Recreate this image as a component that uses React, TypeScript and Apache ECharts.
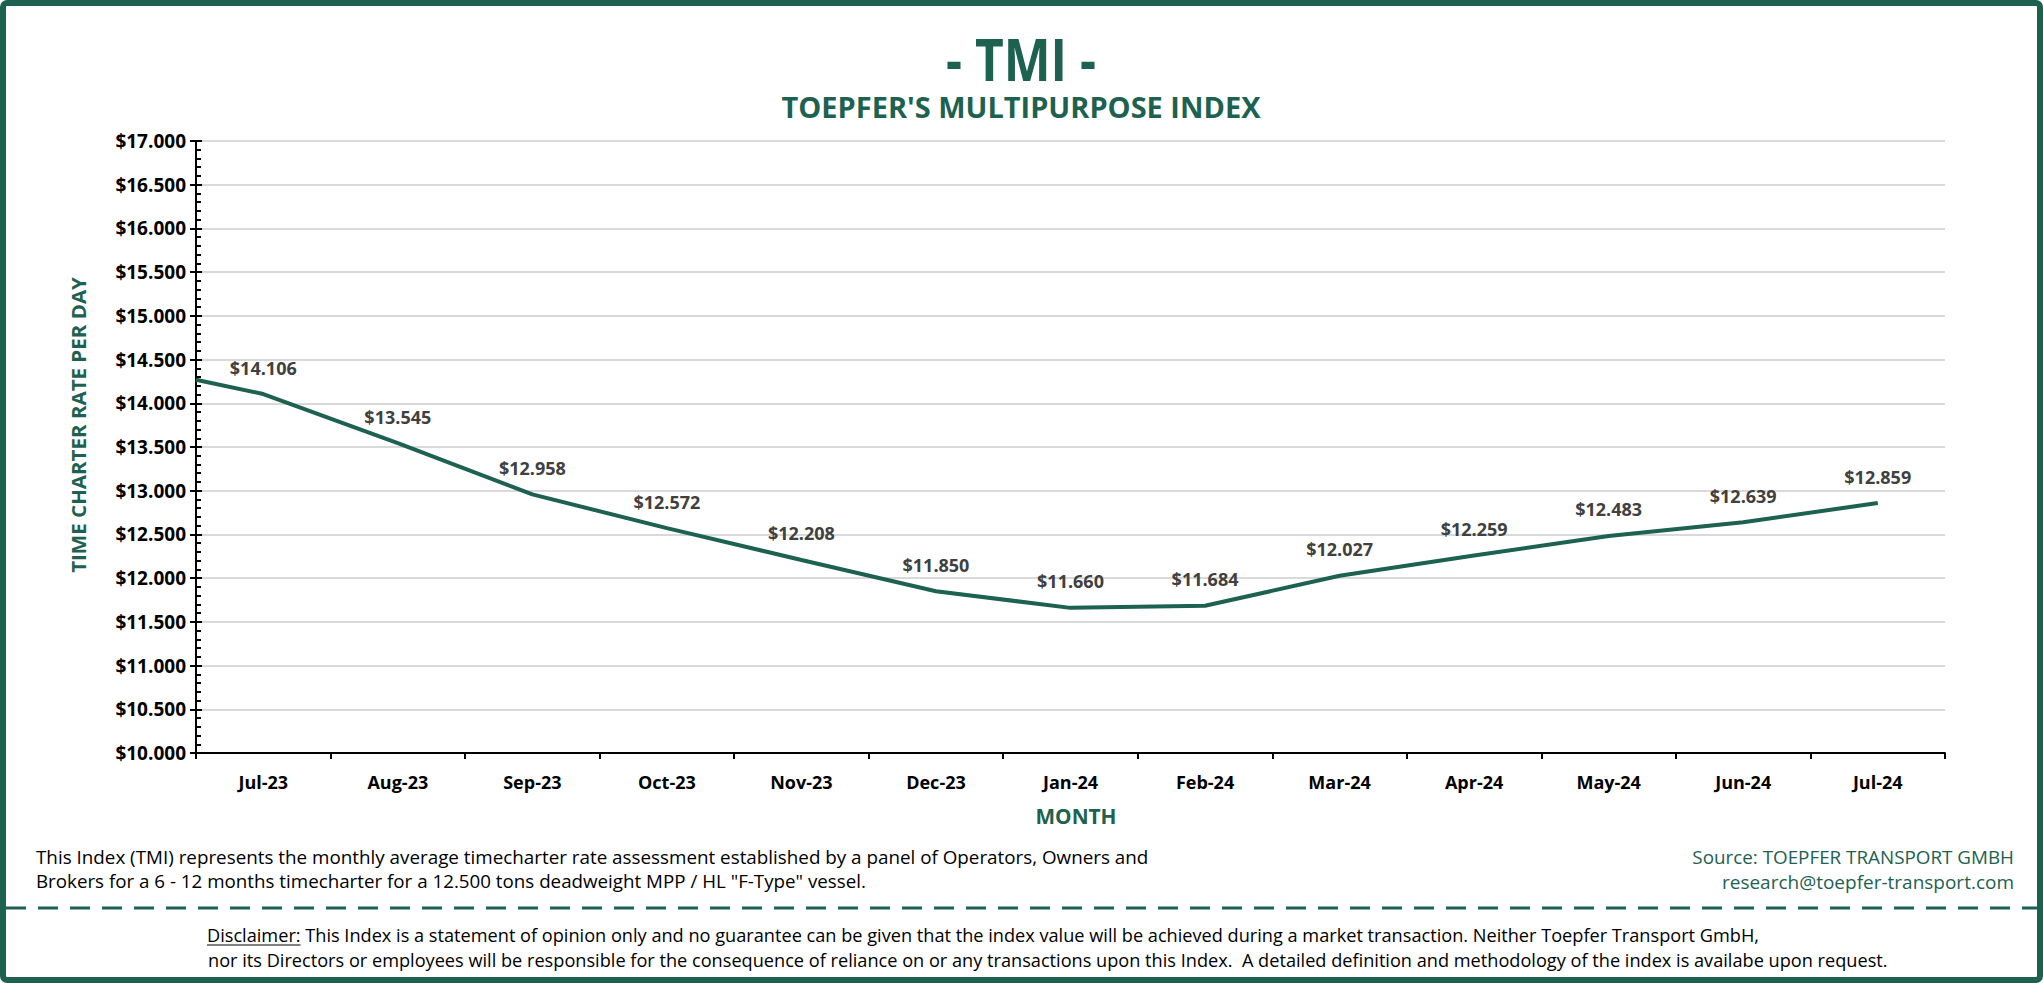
import React, { useEffect, useRef } from 'react';
import * as echarts from 'echarts';

const months = ['Jul-23', 'Aug-23', 'Sep-23', 'Oct-23', 'Nov-23', 'Dec-23', 'Jan-24', 'Feb-24', 'Mar-24', 'Apr-24', 'May-24', 'Jun-24', 'Jul-24'];
const rates = [14106, 13545, 12958, 12572, 12208, 11850, 11660, 11684, 12027, 12259, 12483, 12639, 12859];
// value where the line enters the plot at the y-axis (previous month, half a category before Jul-23)
const leadInRate = 14270;
const yMin = 10000;
const yMax = 17000;
const yStep = 500;

const titleText = '- TMI -';
const subtitleText = "TOEPFER'S MULTIPURPOSE INDEX";
const yTitle = 'TIME CHARTER RATE PER DAY';
const xTitle = 'MONTH';
const noteLines = [
  'This Index (TMI) represents the monthly average timecharter rate assessment established by a panel of Operators, Owners and',
  'Brokers for a 6 - 12 months timecharter for a 12.500 tons deadweight MPP / HL "F-Type" vessel.',
];
const sourceLines = ['Source: TOEPFER TRANSPORT GMBH', 'research@toepfer-transport.com'];
const disclaimerHead = 'Disclaimer:';
const disclaimerLines = [
  ' This Index is a statement of opinion only and no guarantee can be given that the index value will be achieved during a market transaction. Neither Toepfer Transport GmbH,',
  'nor its Directors or employees will be responsible for the consequence of reliance on or any transactions upon this Index.  A detailed definition and methodology of the index is availabe upon request.',
];

const GREEN = '#1d6150';
const FF = '"Open Sans", "Noto Sans", sans-serif';

function money(v: number): string {
  return '$' + Math.round(v).toString().replace(/\B(?=(\d{3})+(?!\d))/g, '.');
}

let ctx: CanvasRenderingContext2D | null = null;
function measure(text: string, font: string): number {
  if (!ctx) ctx = document.createElement('canvas').getContext('2d');
  if (!ctx) return text.length * 8;
  ctx.font = font;
  return ctx.measureText(text).width;
}

function txt(text: string, x: number, y: number, font: string, fill: string, align: string, targetW?: number, rotation = 0) {
  const s = targetW ? targetW / measure(text, font) : 1;
  return {
    type: 'text',
    x,
    y,
    rotation,
    scaleX: s,
    silent: true,
    style: {
      text,
      font,
      fill,
      textAlign: align,
      align,
      textVerticalAlign: 'middle',
      verticalAlign: 'middle',
    },
  };
}

export default function App() {
  const ref = useRef<HTMLDivElement>(null);

  useEffect(() => {
    if (!ref.current) return;
    const chart = echarts.init(ref.current, null, { renderer: 'svg' });

    const lineData: any[] = [
      { value: [-0.5, leadInRate], label: { show: false } },
      ...rates.map((v, i) => ({ value: [i, v] })),
    ];

    const noteFont = `18px ${FF}`;
    const discFont = `18px ${FF}`;
    const discScale = 1679 / measure(disclaimerLines[1], discFont);
    const headW = measure(disclaimerHead, discFont) * discScale;
    const discX = 207;

    const graphics: any[] = [
      {
        type: 'rect',
        shape: { x: 3, y: 3, width: 2037, height: 977, r: 4 },
        style: { fill: 'none', stroke: GREEN, lineWidth: 6 },
        silent: true,
      },
      {
        type: 'line',
        shape: { x1: 6, y1: 908, x2: 2037, y2: 908 },
        style: { stroke: GREEN, lineWidth: 3, lineDash: [20, 12] },
        silent: true,
      },
      txt(titleText, 1021, 58, `bold 60px ${FF}`, GREEN, 'center', 150),
      txt(subtitleText, 1021, 107, `bold 28px ${FF}`, GREEN, 'center', 479),
      txt(yTitle, 78, 425, `bold 20px ${FF}`, GREEN, 'center', 296, Math.PI / 2),
      txt(xTitle, 1076, 816, `bold 21px ${FF}`, GREEN, 'center', 81),
      txt(noteLines[0], 36, 857, noteFont, '#000', 'left', 1113),
      txt(noteLines[1], 36, 881, noteFont, '#000', 'left', 831),
      txt(sourceLines[0], 2014, 857, noteFont, GREEN, 'right', 322),
      txt(sourceLines[1], 2014, 882, noteFont, GREEN, 'right', 292),
      {
        type: 'text',
        x: discX,
        y: 935,
        scaleX: discScale,
        silent: true,
        style: { text: disclaimerHead, font: discFont, fill: '#000', textAlign: 'left', align: 'left', textVerticalAlign: 'middle', verticalAlign: 'middle' },
      },
      {
        type: 'line',
        shape: { x1: discX, y1: 945, x2: discX + headW, y2: 945 },
        style: { stroke: '#000', lineWidth: 1.2 },
        silent: true,
      },
      {
        type: 'text',
        x: discX + headW,
        y: 935,
        scaleX: discScale,
        silent: true,
        style: { text: disclaimerLines[0], font: discFont, fill: '#000', textAlign: 'left', align: 'left', textVerticalAlign: 'middle', verticalAlign: 'middle' },
      },
      txt(disclaimerLines[1], 208, 960, discFont, '#000', 'left', 1679),
    ];

    chart.setOption({
      animation: false,
      backgroundColor: '#fff',
      grid: { left: 196, right: 98, top: 141, bottom: 230, containLabel: false },
      xAxis: [
        {
          type: 'category',
          data: months,
          boundaryGap: true,
          axisLine: { onZero: false, lineStyle: { color: '#000', width: 2 } },
          axisTick: { show: true, length: 6, lineStyle: { color: '#000', width: 2 } },
          axisLabel: { margin: 20, color: '#000', fontWeight: 'bold', fontSize: 18, fontFamily: FF },
          splitLine: { show: false },
        },
        {
          type: 'value',
          min: -0.5,
          max: months.length - 0.5,
          show: false,
          axisLine: { onZero: false },
        },
      ],
      yAxis: [
        {
          type: 'value',
          min: yMin,
          max: yMax,
          interval: yStep,
          axisLine: { show: true, onZero: false, lineStyle: { color: '#000', width: 2 } },
          axisTick: { show: true, length: 6, lineStyle: { color: '#000', width: 2 } },
          axisLabel: { formatter: (v: number) => money(v), margin: 10, color: '#000', fontWeight: 'bold', fontSize: 19, fontFamily: FF },
          splitLine: { show: true, lineStyle: { color: '#d9d9d9', width: 2 } },
        },
        {
          type: 'value',
          min: yMin,
          max: yMax,
          interval: yStep,
          position: 'left',
          axisLine: { show: false, onZero: false },
          axisTick: { show: true, inside: true, length: 6, lineStyle: { color: '#000', width: 2 } },
          minorTick: { show: true, splitNumber: 5, length: 5, lineStyle: { color: '#000', width: 2 } },
          axisLabel: { show: false },
          splitLine: { show: false },
        },
      ],
      series: [
        {
          type: 'line',
          xAxisIndex: 1,
          yAxisIndex: 0,
          data: lineData,
          symbol: 'circle',
          symbolSize: 1,
          showSymbol: true,
          itemStyle: { color: GREEN },
          lineStyle: { color: GREEN, width: 4 },
          label: {
            show: true,
            position: 'top',
            distance: 17,
            formatter: (p: any) => money(p.value[1]),
            color: '#404040',
            fontWeight: 'bold',
            fontSize: 18,
            fontFamily: FF,
          },
          z: 5,
        },
      ],
      graphic: graphics,
    });

    return () => chart.dispose();
  }, []);

  return <div ref={ref} style={{ position: 'fixed', left: 0, top: 0, width: 2043, height: 983 }} />;
}
